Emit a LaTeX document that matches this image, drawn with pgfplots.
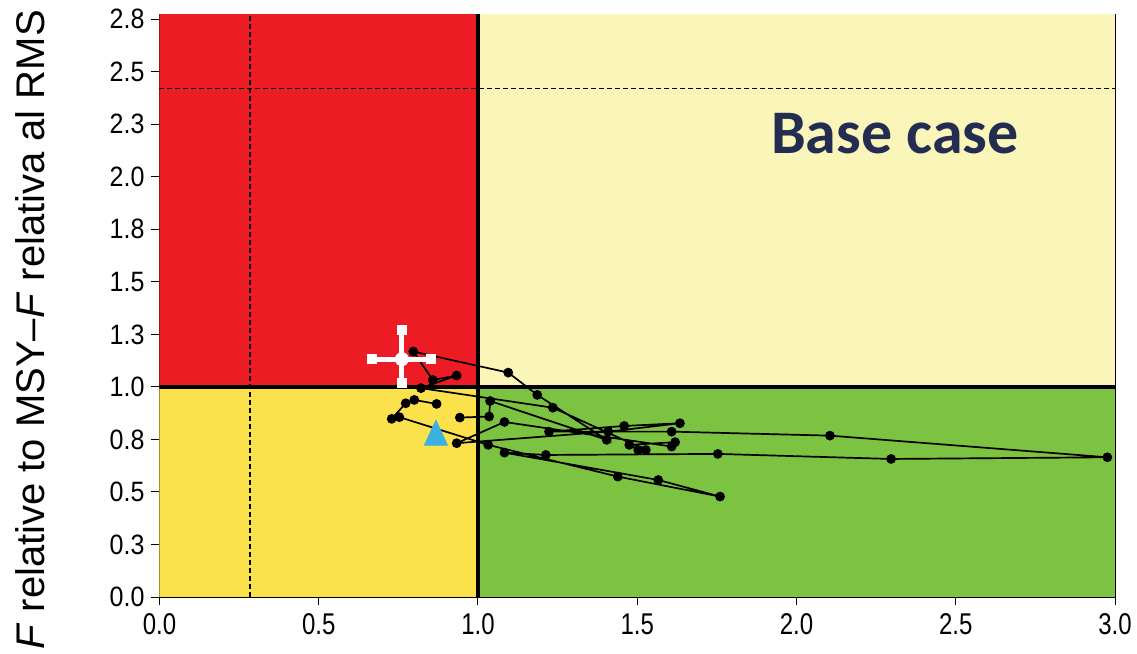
\documentclass[border=0pt]{standalone}
\usepackage{pgfplots}
\pgfplotsset{compat=1.18}
\usepackage{pgfplotstable}
\usepackage{fontspec}
\setmainfont{Liberation Sans}
\newfontfamily\carlito{Carlito}
\definecolor{kred}{RGB}{237,28,36}
\definecolor{kpale}{RGB}{250,246,186}
\definecolor{kyellow}{RGB}{251,225,76}
\definecolor{kgreen}{RGB}{125,195,66}
\definecolor{knavy}{RGB}{35,45,82}
\definecolor{kblue}{RGB}{59,176,227}

\pgfplotstableread{
x y
0.870 0.919
0.800 0.938
0.773 0.922
0.729 0.848
0.753 0.856
1.032 0.724
1.439 0.573
1.760 0.478
1.566 0.557
1.083 0.687
1.213 0.676
1.753 0.681
2.297 0.657
2.976 0.665
2.105 0.768
1.608 0.787
1.223 0.787
1.459 0.814
1.634 0.827
1.409 0.787
0.933 0.732
1.083 0.833
1.608 0.716
1.619 0.737
1.475 0.724
1.503 0.700
1.527 0.700
1.235 0.901
0.821 0.994
0.933 1.054
0.858 1.033
0.797 1.168
1.095 1.068
1.186 0.962
1.404 0.748
1.038 0.933
1.035 0.859
0.943 0.854
}\traj

\begin{document}
\begin{tikzpicture}
\begin{axis}[
  name=ax,
  scale only axis,
  width=477.75pt, height=291pt,
  xmin=0, xmax=3, ymin=0, ymax=2.77,
  axis line style={line width=0.9pt},
  tick align=outside,
  major tick length=4pt,
  tick style={black, line width=0.5pt},
  xtick={0,0.5,...,3},
  xticklabels={0.0,0.5,1.0,1.5,2.0,2.5,3.0},
  ytick={0,0.25,...,2.75},
  yticklabels={0.0,0.3,0.5,0.8,1.0,1.3,1.5,1.8,2.0,2.3,2.5,2.8},
  xtick pos=bottom, ytick pos=left,
  /pgf/number format/assume math mode=true,
  x tick label style={font=\fontsize{12}{14}\selectfont, yscale=1.25},
  y tick label style={font=\fontsize{12.5}{14}\selectfont, yscale=1.12},
  ylabel={\textit{F} relative to MSY–\textit{F} relativa al RMS},
  ylabel style={font=\fontsize{20}{23}\selectfont, at={(axis description cs:-0.1355,0.459)}, anchor=center, rotate=0},
  clip=true,
]
% quadrant backgrounds
\addplot[draw=none, fill=kred] coordinates {(0,1) (1,1) (1,2.8) (0,2.8)} -- cycle;
\addplot[draw=none, fill=kpale] coordinates {(1,1) (3,1) (3,2.8) (1,2.8)} -- cycle;
\addplot[draw=none, fill=kyellow] coordinates {(0,0) (1,0) (1,1) (0,1)} -- cycle;
\addplot[draw=none, fill=kgreen] coordinates {(1,0) (3,0) (3,1) (1,1)} -- cycle;
% dashed reference lines
\addplot[black, line width=0.6pt, dash pattern=on 2.5pt off 1.5pt] coordinates {(0.284,0) (0.284,2.8)};
\addplot[black, line width=0.6pt, dash pattern=on 2.5pt off 1.5pt] coordinates {(0,2.419) (3,2.419)};
% thick lines
\addplot[black, line width=1.9pt] coordinates {(1,0) (1,2.8)};
\addplot[black, line width=2pt] coordinates {(0,1) (3,1)};
% trajectory
\addplot[black, line width=0.85pt, mark=*, mark size=2pt, mark options={fill=black}] table[x=x,y=y] {\traj};
% triangle
\addplot[only marks, mark=triangle*, mark size=8.3pt, color=kblue, mark options={fill=kblue, draw=kblue, xscale=0.8}] coordinates {(0.868,0.762)};
% white cross
\addplot[only marks, mark=*, mark size=3.3pt, white, mark options={fill=white, draw=white},
  error bars/.cd, x dir=both, x explicit, y dir=both, y explicit,
  error bar style={line width=2.4pt, white},
  error mark=square*, error mark options={white, fill=white, mark size=2.2pt, rotate=0}]
  coordinates {(0.761,1.132) += (0.091,0.139) -= (0.095,0.114)};
\node[font=\carlito\bfseries\fontsize{31}{37}\selectfont, text=knavy, anchor=center, inner sep=0pt] at (axis cs:2.309,2.207) {Base case};
\end{axis}
\pgfresetboundingbox
\path ([shift={(-79.75pt,-28.5pt)}]ax.south west) rectangle ([shift={(11pt,7.5pt)}]ax.north east);
\end{tikzpicture}
\end{document}
